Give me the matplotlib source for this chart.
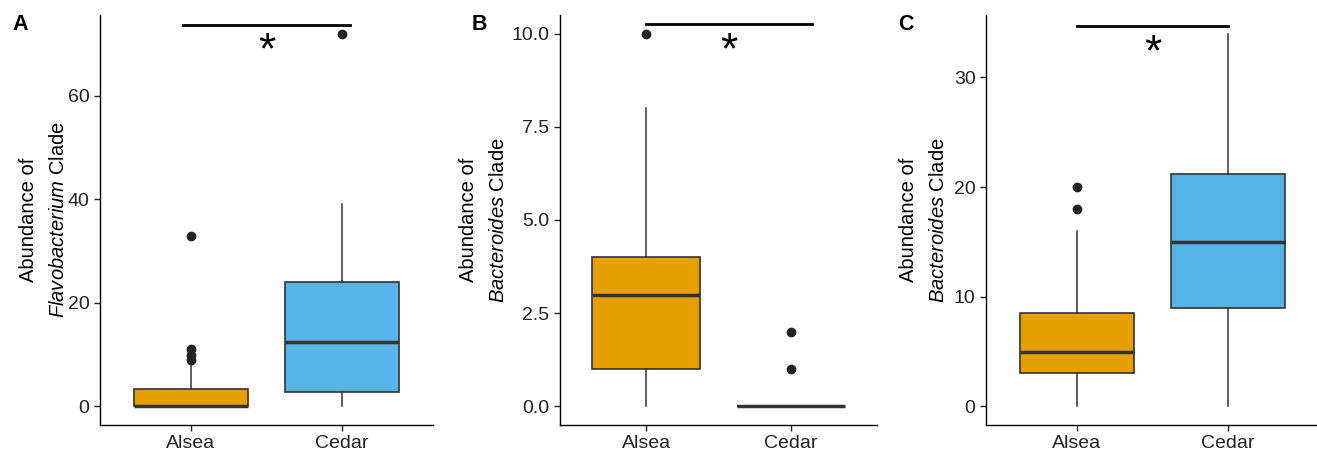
import matplotlib
matplotlib.use("Agg")
import matplotlib.pyplot as plt

plt.rcParams['font.family'] = ['Liberation Sans', 'DejaVu Sans']
plt.rcParams['mathtext.fontset'] = 'custom'
plt.rcParams['mathtext.rm'] = 'Liberation Sans'
plt.rcParams['mathtext.it'] = 'Liberation Sans:italic'

# data (box stats per site)
groups = ['Alsea', 'Cedar']
colors = ['#E69F00', '#56B4E9']

flavo_stats = [
    dict(whislo=0, q1=0, med=0, q3=3.3, whishi=8, fliers=[9, 10, 11, 33]),
    dict(whislo=0, q1=2.7, med=12.5, q3=24, whishi=39, fliers=[72]),
]
bact_b_stats = [
    dict(whislo=0, q1=1, med=3, q3=4, whishi=8, fliers=[10]),
    dict(whislo=0, q1=0, med=0, q3=0, whishi=0, fliers=[1, 2]),
]
bact_c_stats = [
    dict(whislo=0, q1=3, med=5, q3=8.5, whishi=16, fliers=[18, 20]),
    dict(whislo=0, q1=9, med=15, q3=21.2, whishi=34, fliers=[]),
]

panels = [
    dict(letter='A', stats=flavo_stats, genus='Flavobacterium',
         ylim=(-3.6, 75.6), yticks=[0, 20, 40, 60], ylabels=['0', '20', '40', '60'],
         bar_x=(0.95, 2.05), bar_y=73.7,
         pos=[100, 333], lab1=-72, lab2=-42),
    dict(letter='B', stats=bact_b_stats, genus='Bacteroides',
         ylim=(-0.5, 10.5), yticks=[0, 2.5, 5, 7.5, 10],
         ylabels=['0.0', '2.5', '5.0', '7.5', '10.0'],
         bar_x=(1.0, 2.15), bar_y=10.26,
         pos=[560, 317], lab1=-92, lab2=-61),
    dict(letter='C', stats=bact_c_stats, genus='Bacteroides',
         ylim=(-1.7, 35.7), yticks=[0, 10, 20, 30], ylabels=['0', '10', '20', '30'],
         bar_x=(1.0, 2.0), bar_y=34.7,
         pos=[986, 333], lab1=-78, lab2=-47),
]

W, H = 1317, 455
fig = plt.figure(figsize=(W / 100, H / 100), dpi=100)

for p in panels:
    left, width = p['pos']
    ax = fig.add_axes([left / W, 1 - 425 / H, width / W, 410 / H])
    stats = [dict(s, label=g) for s, g in zip(p['stats'], groups)]
    res = ax.bxp(stats, positions=[1, 2], widths=0.75, patch_artist=True,
                 showcaps=False,
                 boxprops=dict(edgecolor='#333333', linewidth=1.2),
                 whiskerprops=dict(color='#333333', linewidth=1.1),
                 medianprops=dict(color='#333333', linewidth=2.5),
                 flierprops=dict(marker='o', markerfacecolor='#222222',
                                 markeredgecolor='#222222', markersize=6))
    for box, c in zip(res['boxes'], colors):
        box.set_facecolor(c)

    ax.set_xlim(0.4, 2.6)
    ax.set_ylim(*p['ylim'])
    ax.set_yticks(p['yticks'])
    ax.set_yticklabels(p['ylabels'])
    ax.set_xticks([1, 2])
    ax.set_xticklabels(groups)
    ax.tick_params(labelsize=14, colors='#222222', length=4, width=1)
    for side in ['top', 'right']:
        ax.spines[side].set_visible(False)
    for side in ['left', 'bottom']:
        ax.spines[side].set_linewidth(1.0)

    # significance bar
    ax.plot(p['bar_x'], [p['bar_y'], p['bar_y']], color='black', lw=2, clip_on=False)
    ax.annotate('*', xy=(sum(p['bar_x']) / 2, p['bar_y']), xytext=(0, -39),
                textcoords='offset pixels', ha='center', va='baseline',
                fontsize=32, annotation_clip=False)

    # two-line y label
    ax.annotate('Abundance of', xy=(0, 0.5), xycoords='axes fraction',
                xytext=(p['lab1'], 0), textcoords='offset pixels',
                rotation=90, ha='center', va='center', fontsize=14.5)
    ax.annotate('$\\it{' + p['genus'] + '}$ Clade', xy=(0, 0.5),
                xycoords='axes fraction', xytext=(p['lab2'], 0),
                textcoords='offset pixels', rotation=90, ha='center',
                va='center', fontsize=14.5)

    fig.text((left - 88) / W, 1 - 24 / H, p['letter'], fontsize=15.5,
             fontweight='bold', ha='left', va='center')

fig.savefig('out.png', dpi=100)
